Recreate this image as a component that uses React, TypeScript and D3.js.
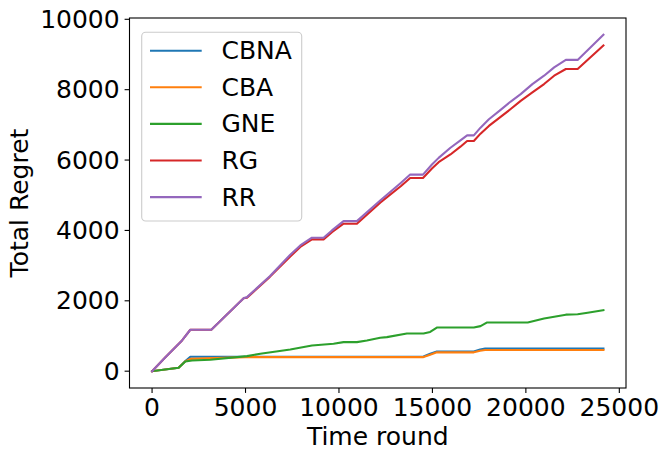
import React from "react";
import * as d3 from "d3";

const seriesNames = ["CBNA", "CBA", "GNE", "RG", "RR"];
const seriesColors = ["#1f77b4", "#ff7f0e", "#2ca02c", "#d62728", "#9467bd"];

const rTimes = [0, 700, 1337, 1604, 2048, 3170, 4900, 5080, 6300, 7395, 7930, 8554, 9176, 9624, 10245, 10960, 12206, 13305, 13810, 14495, 14975, 15333, 15964, 16499, 16857, 17215, 17573, 18022, 18648, 19188, 19723, 20349, 20974, 21514, 22139, 22770, 24150];
const rrValues = [0, 390, 731, 873, 1177, 1177, 2076, 2104, 2700, 3310, 3574, 3793, 3793, 4000, 4265, 4265, 4853, 5349, 5587, 5587, 5872, 6062, 6349, 6559, 6701, 6701, 6921, 7159, 7426, 7663, 7873, 8159, 8397, 8635, 8846, 8846, 9559];
const rgValues = [0, 390, 731, 873, 1177, 1177, 2070, 2090, 2680, 3260, 3530, 3745, 3745, 3950, 4191, 4191, 4790, 5254, 5491, 5491, 5760, 5940, 6159, 6380, 6540, 6540, 6750, 6969, 7225, 7450, 7683, 7922, 8160, 8397, 8587, 8587, 9255];

const gneTimes = [0, 1422, 1780, 2138, 3117, 5080, 5790, 7395, 8554, 9710, 10245, 10960, 11495, 12206, 12564, 13633, 14523, 14880, 15236, 17215, 17573, 17930, 20100, 20974, 22139, 22770, 23305, 24150];
const gneValues = [0, 97, 276, 304, 323, 427, 495, 617, 731, 779, 825, 825, 873, 950, 967, 1070, 1070, 1115, 1240, 1240, 1280, 1385, 1385, 1498, 1606, 1620, 1663, 1735];

const cbnaTimes = [0, 1422, 1780, 2048, 14523, 14880, 15236, 17215, 17553, 17820, 24150];
const cbnaValues = [0, 97, 290, 410, 418, 495, 560, 560, 617, 640, 640];

const cbaTimes = [0, 1422, 1780, 2048, 5000, 14523, 14880, 15236, 17215, 17553, 17820, 24150];
const cbaValues = [0, 97, 280, 350, 400, 400, 470, 535, 535, 580, 600, 600];

const xTicks = [0, 5000, 10000, 15000, 20000, 25000];
const yTicks = [0, 2000, 4000, 6000, 8000, 10000];

const W = 668;
const H = 461;
const left = 129.5;
const right = 626;
const top = 18;
const bottom = 388;
const FONT = "'DejaVu Sans', sans-serif";
const FS = 25;

export default function App() {
  const xMax = 24150;
  const yMax = 9559;
  const x = d3.scaleLinear().domain([-0.05 * xMax, 1.05 * xMax]).range([left, right]);
  const y = d3.scaleLinear().domain([-0.05 * yMax, 1.05 * yMax]).range([bottom, top]);

  const series = [
    { t: cbnaTimes, v: cbnaValues },
    { t: cbaTimes, v: cbaValues },
    { t: gneTimes, v: gneValues },
    { t: rTimes, v: rgValues },
    { t: rTimes, v: rrValues },
  ];
  const line = d3.line<[number, number]>().x((d) => x(d[0])).y((d) => y(d[1]));

  const legX = 141.7, legY = 32.3, legW = 160, legH = 188.7;
  const rowY0 = 50.7, rowStep = 36.6;

  return (
    <svg width={W} height={H} style={{ position: "absolute", left: 0, top: 0, background: "#fff" }}>
      <rect x={0} y={0} width={W} height={H} fill="#fff" />
      <defs>
        <clipPath id="plotclip">
          <rect x={left} y={top} width={right - left} height={bottom - top} />
        </clipPath>
      </defs>
      <g clipPath="url(#plotclip)">
        {series.map((s, i) => (
          <path
            key={seriesNames[i]}
            d={line(s.t.map((t, j) => [t, s.v[j]]) as [number, number][]) || ""}
            fill="none"
            stroke={seriesColors[i]}
            strokeWidth={2.1}
            strokeLinejoin="round"
            strokeLinecap="square"
          />
        ))}
      </g>
      <rect x={left} y={top} width={right - left} height={bottom - top} fill="none" stroke="#000" strokeWidth={1.1} />
      {xTicks.map((t) => (
        <g key={"x" + t}>
          <line x1={x(t)} x2={x(t)} y1={bottom} y2={bottom + 4.9} stroke="#000" strokeWidth={1.1} />
          <text x={x(t)} y={bottom + 9.8 + 18.5} textAnchor="middle" fontFamily={FONT} fontSize={FS} fill="#000">
            {t}
          </text>
        </g>
      ))}
      {yTicks.map((t) => (
        <g key={"y" + t}>
          <line x1={left - 4.9} x2={left} y1={y(t)} y2={y(t)} stroke="#000" strokeWidth={1.1} />
          <text x={left - 9.8} y={y(t)} textAnchor="end" dominantBaseline="central" fontFamily={FONT} fontSize={FS} fill="#000">
            {t}
          </text>
        </g>
      ))}
      <text x={(left + right) / 2} y={445} textAnchor="middle" fontFamily={FONT} fontSize={FS} fill="#000">
        Time round
      </text>
      <text
        transform={`translate(${27.5}, ${(top + bottom) / 2}) rotate(-90)`}
        textAnchor="middle"
        fontFamily={FONT}
        fontSize={FS}
        fill="#000"
      >
        Total Regret
      </text>
      <rect x={legX} y={legY} width={legW} height={legH} rx={4} ry={4} fill="#fff" fillOpacity={0.8} stroke="#cccccc" strokeWidth={1.1} />
      {seriesNames.map((n, i) => {
        const ry = rowY0 + i * rowStep;
        return (
          <g key={"leg" + n}>
            <line x1={150} x2={201.7} y1={ry} y2={ry} stroke={seriesColors[i]} strokeWidth={2.1} />
            <text x={221.5} y={ry} dominantBaseline="central" fontFamily={FONT} fontSize={FS} fill="#000">
              {n}
            </text>
          </g>
        );
      })}
    </svg>
  );
}
